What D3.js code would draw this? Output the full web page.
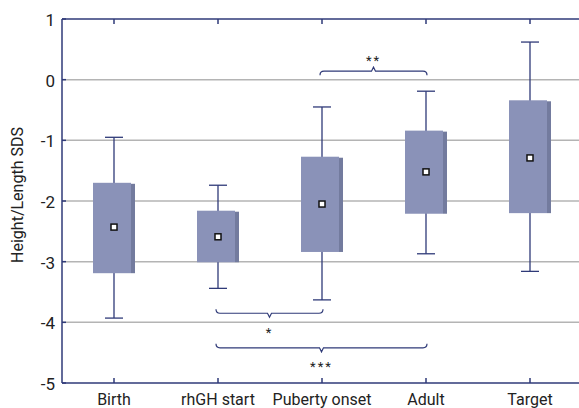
<!DOCTYPE html>
<html>
<head>
<meta charset="utf-8">
<script src="https://cdn.jsdelivr.net/npm/d3@7"></script>
<style>
  body { margin: 0; background: #fff; }
  svg { display: block; font-family: Roboto, "Liberation Sans", sans-serif; }
</style>
</head>
<body>
<div id="chart"></div>
<script>
const categories = ["Birth", "rhGH start", "Puberty onset", "Adult", "Target"];
const whiskerHigh = [-0.95, -1.74, -0.45, -0.19, 0.62];
const boxTop = [-1.70, -2.16, -1.27, -0.84, -0.34];
const means = [-2.43, -2.59, -2.05, -1.52, -1.29];
const boxBottom = [-3.19, -3.01, -2.84, -2.21, -2.20];
const whiskerLow = [-3.93, -3.44, -3.63, -2.87, -3.16];
const yTicks = [1, 0, -1, -2, -3, -4, -5];
// significance brackets: between two groups, at a y level, opening up or down
const brackets = [
  {from: "Puberty onset", to: "Adult", level: 0.14, label: "**", side: "above"},
  {from: "rhGH start", to: "Puberty onset", level: -3.85, label: "*", side: "below"},
  {from: "rhGH start", to: "Adult", level: -4.42, label: "***", side: "below"}
];

const width = 579, height = 408;
const margin = {top: 19, right: -3, bottom: 25, left: 62};
const navy = "#2f3a78";

const svg = d3.select("#chart").append("svg")
  .attr("width", width).attr("height", height);

const x = d3.scalePoint().domain(categories)
  .range([margin.left, width - margin.right]).padding(0.5);
const y = d3.scaleLinear().domain([-5, 1]).range([height - margin.bottom, margin.top]);

// gridlines
svg.append("g").selectAll("line")
  .data(yTicks.filter(d => d > -5 && d < 1))
  .join("line")
  .attr("x1", margin.left).attr("x2", width - margin.right)
  .attr("y1", d => y(d)).attr("y2", d => y(d))
  .attr("stroke", "#b4b4b4").attr("stroke-width", 1.5);

// frame: left, top, bottom
const frame = svg.append("g").attr("stroke", navy).attr("stroke-width", 1.5).attr("fill", "none");
frame.append("line").attr("x1", margin.left).attr("x2", margin.left).attr("y1", y(1)).attr("y2", y(-5));
frame.append("line").attr("x1", margin.left).attr("x2", width - margin.right).attr("y1", y(1)).attr("y2", y(1));
frame.append("line").attr("x1", margin.left).attr("x2", width - margin.right).attr("y1", y(-5)).attr("y2", y(-5));

// y ticks inward
frame.selectAll(".yt").data(yTicks).join("line")
  .attr("x1", margin.left).attr("x2", margin.left + 4)
  .attr("y1", d => y(d)).attr("y2", d => y(d));
// x ticks top and bottom
frame.selectAll(".xb").data(categories).join("line")
  .attr("x1", d => x(d)).attr("x2", d => x(d))
  .attr("y1", y(-5)).attr("y2", y(-5) - 5);
frame.selectAll(".xt").data(categories).join("line")
  .attr("x1", d => x(d)).attr("x2", d => x(d))
  .attr("y1", y(1)).attr("y2", y(1) + 5);

// y labels
svg.append("g").selectAll("text").data(yTicks).join("text")
  .attr("x", margin.left - 7).attr("y", d => y(d) + 1)
  .attr("text-anchor", "end").attr("dominant-baseline", "central")
  .attr("font-size", 17).attr("fill", "#222")
  .text(d => d);

// x labels
svg.append("g").selectAll("text").data(categories).join("text")
  .attr("x", d => x(d)).attr("y", height - 3)
  .attr("text-anchor", "middle")
  .attr("font-size", 16).attr("fill", "#222")
  .text(d => d);

// y title
svg.append("text")
  .attr("transform", `translate(23,${(y(1) + y(-5)) / 2 - 6}) rotate(-90)`)
  .attr("text-anchor", "middle")
  .attr("font-size", 16).attr("fill", "#222")
  .text("Height/Length SDS");

// boxes
const boxW = 42, shadowW = 4;
const groups = svg.append("g").selectAll("g").data(categories).join("g");

groups.append("line")
  .attr("x1", d => x(d)).attr("x2", d => x(d))
  .attr("y1", (d, i) => y(whiskerHigh[i])).attr("y2", (d, i) => y(whiskerLow[i]))
  .attr("stroke", navy).attr("stroke-width", 1.3);
groups.append("line")
  .attr("x1", d => x(d) - 9).attr("x2", d => x(d) + 9)
  .attr("y1", (d, i) => y(whiskerHigh[i])).attr("y2", (d, i) => y(whiskerHigh[i]))
  .attr("stroke", navy).attr("stroke-width", 1.3);
groups.append("line")
  .attr("x1", d => x(d) - 9).attr("x2", d => x(d) + 9)
  .attr("y1", (d, i) => y(whiskerLow[i])).attr("y2", (d, i) => y(whiskerLow[i]))
  .attr("stroke", navy).attr("stroke-width", 1.3);

groups.append("rect")
  .attr("x", d => x(d) - boxW / 2).attr("width", boxW - shadowW)
  .attr("y", (d, i) => y(boxTop[i]))
  .attr("height", (d, i) => y(boxBottom[i]) - y(boxTop[i]))
  .attr("fill", "#8a92b8");
groups.append("rect")
  .attr("x", d => x(d) + boxW / 2 - shadowW).attr("width", shadowW)
  .attr("y", (d, i) => y(boxTop[i]) + 1)
  .attr("height", (d, i) => y(boxBottom[i]) - y(boxTop[i]) - 1)
  .attr("fill", "#737b9e");

// mean markers
groups.append("rect")
  .attr("x", d => x(d) - 3).attr("width", 6)
  .attr("y", (d, i) => y(means[i]) - 3).attr("height", 6)
  .attr("fill", "#fff").attr("stroke", "#111").attr("stroke-width", 1.5);

// significance brackets
const bg = svg.append("g");
brackets.forEach(b => {
  const x1 = x(b.from) - 2, x2 = x(b.to) + 1, yy = y(b.level);
  const s = b.side === "above" ? 1 : -1; // ends hook toward boxes
  const xm = (x1 + x2) / 2;
  const p = d3.path();
  p.moveTo(x1, yy + 4 * s);
  p.quadraticCurveTo(x1, yy, x1 + 4, yy);
  p.lineTo(xm - 2, yy);
  p.lineTo(xm, yy - 4 * s);
  p.lineTo(xm + 2, yy);
  p.lineTo(x2 - 4, yy);
  p.quadraticCurveTo(x2, yy, x2, yy + 4 * s);
  bg.append("path").attr("d", p.toString())
    .attr("fill", "none").attr("stroke", navy).attr("stroke-width", 1.2);
  bg.append("text")
    .attr("x", xm).attr("y", yy - 15 * s + 4)
    .attr("text-anchor", "middle").attr("dominant-baseline", "central")
    .attr("font-size", 13).attr("letter-spacing", 2).attr("fill", "#222")
    .text(b.label);
});
</script>
</body>
</html>
